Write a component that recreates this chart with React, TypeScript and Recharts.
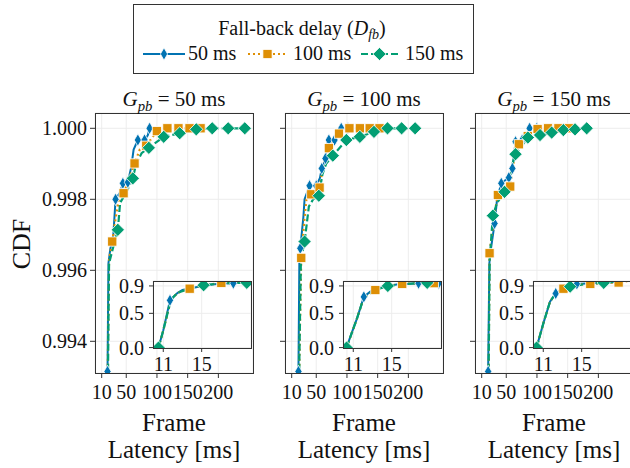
import React from "react";
import { LineChart, Line, XAxis, YAxis, CartesianGrid } from "recharts";

// [x (ms), CDF, marker shown]
type Pt = [number, number, number];

const xTicks = [10, 50, 100, 150, 200];
const yTicks = [0.994, 0.996, 0.998, 1.0];
const insetXTicks = [11, 15];
const insetYTicks = [0, 0.5, 0.9];

const gpbLabels = ["50", "100", "150"];
const delayLabels = ["50 ms", "100 ms", "150 ms"];

// main panels, G_pb = 50 ms
const g50d50: Pt[] = [[18, 0.985, 0], [19.5, 0.99315, 1], [21, 0.9962, 0], [24, 0.9966, 0], [29, 0.997, 0], [32.6, 0.998, 1], [40, 0.9982, 0], [44.5, 0.99845, 1], [52.6, 0.99848, 1], [58, 0.9989, 0], [62, 0.9994, 0], [68.9, 0.99967, 1], [79.8, 0.99967, 1], [85, 0.9998, 0], [88, 1.0, 1]];
const g50d100: Pt[] = [[18, 0.985, 0], [20, 0.9935, 0], [22, 0.9963, 0], [27.2, 0.99681, 1], [33, 0.9975, 0], [38, 0.998, 0], [45.6, 0.99817, 1], [55, 0.9986, 0], [63.5, 0.99901, 1], [72, 0.9994, 0], [82.6, 0.99951, 1], [99.8, 0.99992, 1], [117, 1.0, 1], [135, 1.0, 1], [153, 1.0, 1], [171, 1.0, 1]];
const g50d150: Pt[] = [[18, 0.985, 0], [20.5, 0.9935, 0], [22, 0.9962, 0], [28, 0.9966, 0], [36.3, 0.99714, 1], [40, 0.9979, 0], [50, 0.9982, 0], [60.7, 0.99859, 1], [66, 0.999, 0], [75, 0.9993, 0], [86.8, 0.99945, 1], [111, 0.99976, 1], [137, 0.99986, 1], [164, 0.99997, 1], [190, 1.0, 1], [216, 1.0, 1], [243, 1.0, 1]];

// G_pb = 100 ms
const g100d50: Pt[] = [[20, 0.985, 0], [21, 0.99315, 1], [22.5, 0.9963, 0], [24, 0.99662, 1], [29, 0.9975, 0], [31, 0.998, 0], [39.1, 0.99838, 1], [50, 0.99838, 1], [56, 0.9986, 0], [59, 0.99887, 1], [65, 0.99915, 1], [68, 0.9996, 0], [70.5, 0.99967, 1], [79.8, 0.99967, 1], [85, 0.9998, 0], [90.7, 1.0, 1], [101.5, 1.0, 1]];
const g100d100: Pt[] = [[20, 0.985, 0], [22.5, 0.9935, 0], [25.6, 0.99635, 1], [30, 0.9973, 0], [34, 0.998, 0], [41.9, 0.99814, 1], [55.4, 0.99833, 1], [62, 0.999, 0], [70.5, 0.99944, 1], [87, 0.99985, 1], [104, 1.0, 1], [121, 1.0, 1], [137, 1.0, 1], [153, 1.0, 1]];
const g100d150: Pt[] = [[20, 0.985, 0], [22.5, 0.9935, 0], [25, 0.9963, 0], [31, 0.99681, 1], [38, 0.9978, 0], [45, 0.998, 0], [54.2, 0.9981, 1], [60, 0.9987, 0], [66, 0.999, 0], [77, 0.99923, 1], [99, 0.99967, 1], [121, 0.99976, 1], [144, 0.9999, 1], [166, 1.0, 1], [189, 1.0, 1], [211, 1.0, 1]];

// G_pb = 150 ms
const g150d50: Pt[] = [[19, 0.985, 0], [20.5, 0.99315, 1], [22.5, 0.9962, 0], [25, 0.9966, 0], [31, 0.99732, 1], [35, 0.998, 0], [41.9, 0.99845, 1], [54.2, 0.99861, 1], [60, 0.99887, 1], [63, 0.9993, 0], [65.1, 0.99962, 1], [76, 0.99967, 1], [83, 0.9998, 0], [88, 1.0, 1], [99.8, 1.0, 1]];
const g150d100: Pt[] = [[19, 0.985, 0], [21.5, 0.9935, 0], [22.8, 0.99648, 1], [30, 0.9975, 0], [36.3, 0.99812, 1], [45, 0.9983, 0], [56.5, 0.99836, 1], [63, 0.9992, 0], [70.5, 0.99955, 1], [85, 0.99978, 1], [101, 0.99998, 1], [118, 1.0, 1], [135, 1.0, 1], [152, 1.0, 1]];
const g150d150: Pt[] = [[19, 0.985, 0], [21.5, 0.9935, 0], [23, 0.9963, 0], [28.2, 0.99754, 1], [35, 0.9979, 0], [47.2, 0.99821, 1], [55, 0.9985, 0], [60, 0.999, 0], [65.1, 0.99927, 1], [85.2, 0.99974, 1], [105, 0.99981, 1], [124, 0.99988, 1], [143, 0.99995, 1], [162, 0.99997, 1], [181, 1.0, 1]];

// insets (body of the distribution)
const in50d50: Pt[] = [[10.5, 0, 0], [11, 0.25, 0], [11.7, 0.69, 1], [12.5, 0.8, 0], [13, 0.84, 0], [14, 0.87, 0], [15.5, 0.91, 0], [17, 0.935, 0], [18.3, 0.94, 1], [19.5, 0.95, 0], [20.6, 0.99, 0]];
const in50d100: Pt[] = [[10.5, 0, 0], [11, 0.25, 0], [11.8, 0.7, 0], [12.5, 0.8, 0], [13.75, 0.86, 1], [15.2, 0.91, 0], [17.05, 0.945, 1], [18.5, 0.95, 0], [20.6, 0.99, 0]];
const in50d150: Pt[] = [[10.5, 0, 1], [11, 0.25, 0], [11.8, 0.7, 0], [12.5, 0.8, 0], [13.75, 0.86, 0], [15.2, 0.91, 1], [17, 0.94, 0], [19.7, 0.945, 1], [20.6, 0.99, 0]];

const in100d50: Pt[] = [[10.3, 0, 0], [10.8, 0.2, 0], [11.4, 0.43, 0], [12.1, 0.74, 1], [12.8, 0.82, 0], [14, 0.88, 0], [15.5, 0.92, 0], [17.8, 0.94, 1], [19.9, 0.94, 1], [20.6, 0.99, 0]];
const in100d100: Pt[] = [[10.3, 0, 0], [11.4, 0.43, 0], [12.1, 0.73, 0], [13.3, 0.84, 1], [14.5, 0.9, 0], [16.1, 0.93, 1], [18, 0.94, 0], [19.4, 0.94, 1], [20.6, 0.99, 0]];
const in100d150: Pt[] = [[10.3, 0, 1], [11.4, 0.43, 0], [12.1, 0.73, 0], [13.3, 0.84, 0], [14.6, 0.9, 1], [16.5, 0.93, 0], [18.7, 0.945, 1], [20.6, 0.99, 0]];

const in150d50: Pt[] = [[10.3, 0, 0], [11, 0.35, 0], [11.7, 0.67, 0], [12.3, 0.79, 1], [13.1, 0.85, 0], [14.5, 0.93, 1], [16, 0.94, 0], [18, 0.95, 0], [20.6, 0.99, 0]];
const in150d100: Pt[] = [[10.3, 0, 0], [11, 0.35, 0], [11.7, 0.67, 0], [12.3, 0.79, 0], [13.1, 0.86, 1], [14.5, 0.92, 0], [15.9, 0.93, 1], [17.3, 0.945, 0], [18.85, 0.95, 1], [20.6, 0.99, 0]];
const in150d150: Pt[] = [[10.3, 0, 1], [11, 0.35, 0], [11.7, 0.67, 0], [12.3, 0.79, 0], [13.8, 0.89, 1], [15.5, 0.93, 0], [17.3, 0.945, 1], [20.6, 0.99, 0]];

const FONT = '"Liberation Serif", "Times New Roman", Times, "DejaVu Serif", serif';
const INK = "#111";
const FRAME = "#333";
const GRID = "#ebebeb";

type Shape = "thin" | "square" | "diamond";
const SERIES: { color: string; dash?: string; width: number; shape: Shape }[] = [
  { color: "#0173B2", width: 2, shape: "thin" },
  { color: "#DE8F05", dash: "2 3", width: 2.2, shape: "square" },
  { color: "#029E73", dash: "7 3", width: 2.2, shape: "diamond" },
];

const panels = [
  { main: [g50d50, g50d100, g50d150], inset: [in50d50, in50d100, in50d150] },
  { main: [g100d50, g100d100, g100d150], inset: [in100d50, in100d100, in100d150] },
  { main: [g150d50, g150d100, g150d150], inset: [in150d50, in150d100, in150d150] },
];

function Marker({ shape, color, x, y }: { shape: Shape; color: string; x: number; y: number }) {
  if (shape === "square") {
    return <rect x={x - 4.6} y={y - 4.6} width={9.2} height={9.2} fill={color} stroke="#fff" strokeWidth={0.8} />;
  }
  const w = shape === "thin" ? 3.6 : 6.6;
  const h = shape === "thin" ? 6.2 : 6.6;
  return (
    <polygon
      points={`${x},${y - h} ${x + w},${y} ${x},${y + h} ${x - w},${y}`}
      fill={color}
      stroke="#fff"
      strokeWidth={0.8}
    />
  );
}

const makeDot = (shape: Shape, color: string) => (props: any) => {
  const { cx, cy, payload, index } = props;
  if (!payload || !payload.m || cx == null || cy == null) return <g key={`n-${index}`} />;
  return (
    <g key={`d-${index}`}>
      <Marker shape={shape} color={color} x={cx} y={cy} />
    </g>
  );
};

const toPts = (arr: Pt[]) => arr.map(([x, y, m]) => ({ x, y, m }));

const tickStyle = { fill: INK, fontSize: 20, fontFamily: FONT };

function Panel({ idx }: { idx: number }) {
  const L = 95 + 190 * idx;
  const p = panels[idx];
  return (
    <>
      <div style={{ position: "absolute", left: L - 60, top: 103 }}>
        <LineChart width={223} height={315} margin={{ top: 10, right: 5, bottom: 0, left: 0 }}>
          <CartesianGrid stroke={GRID} strokeWidth={0.9} />
          <XAxis
            type="number"
            dataKey="x"
            domain={[-0.9, 256.4]}
            ticks={xTicks}
            interval={0}
            allowDataOverflow
            height={45}
            axisLine={false}
            tickSize={5}
            tickMargin={7}
            tickLine={{ stroke: FRAME }}
            tick={tickStyle}
          />
          <YAxis
            type="number"
            domain={[0.993107, 1.000431]}
            ticks={yTicks}
            interval={0}
            allowDataOverflow
            width={60}
            axisLine={false}
            tickSize={5}
            tickMargin={3}
            tickLine={{ stroke: FRAME }}
            tick={tickStyle}
            tickFormatter={(v: number) => (idx === 0 ? v.toFixed(3) : "")}
          />
          {p.main.map((d, i) => (
            <Line
              key={i}
              data={toPts(d)}
              dataKey="y"
              type="linear"
              stroke={SERIES[i].color}
              strokeWidth={SERIES[i].width}
              strokeDasharray={SERIES[i].dash}
              dot={makeDot(SERIES[i].shape, SERIES[i].color)}
              activeDot={false}
              isAnimationActive={false}
            />
          ))}
        </LineChart>
      </div>
      <div
        style={{
          position: "absolute",
          left: L,
          top: 113,
          width: 159,
          height: 261,
          border: `1px solid ${FRAME}`,
          boxSizing: "border-box",
        }}
      />
      <div style={{ position: "absolute", left: L + 8, top: 271 }}>
        <LineChart width={150} height={109} margin={{ top: 10, right: 2, bottom: 0, left: 0 }}>
          <CartesianGrid stroke={GRID} strokeWidth={0.9} fill="#fff" fillOpacity={1} />
          <XAxis
            type="number"
            dataKey="x"
            domain={[9.93, 20.14]}
            ticks={insetXTicks}
            interval={0}
            allowDataOverflow
            height={32}
            axisLine={false}
            tickSize={4}
            tickMargin={5}
            tickLine={{ stroke: FRAME }}
            tick={tickStyle}
          />
          <YAxis
            type="number"
            domain={[-0.006, 0.972]}
            ticks={insetYTicks}
            interval={0}
            allowDataOverflow
            width={50}
            axisLine={false}
            tickSize={4}
            tickMargin={5}
            tickLine={{ stroke: FRAME }}
            tick={tickStyle}
            tickFormatter={(v: number) => v.toFixed(1)}
          />
          {p.inset.map((d, i) => (
            <Line
              key={i}
              data={toPts(d)}
              dataKey="y"
              type="linear"
              stroke={SERIES[i].color}
              strokeWidth={SERIES[i].width}
              strokeDasharray={SERIES[i].dash}
              dot={makeDot(SERIES[i].shape, SERIES[i].color)}
              activeDot={false}
              isAnimationActive={false}
            />
          ))}
        </LineChart>
      </div>
      <div
        style={{
          position: "absolute",
          left: L + 58,
          top: 281,
          width: 99,
          height: 68,
          border: `1px solid ${FRAME}`,
          boxSizing: "border-box",
        }}
      />
      <div
        style={{
          position: "absolute",
          left: L + 79 - 100,
          top: 89,
          width: 200,
          textAlign: "center",
          fontSize: 21,
          lineHeight: "21px",
          color: INK,
          whiteSpace: "nowrap",
        }}
      >
        <span style={{ fontStyle: "italic" }}>G</span>
        <span style={{ fontStyle: "italic", fontSize: "0.7em", position: "relative", top: "0.32em" }}>pb</span>
        {" = "}
        {gpbLabels[idx]} ms
      </div>
      <div
        style={{
          position: "absolute",
          left: L + 79 - 100,
          top: 409,
          width: 200,
          textAlign: "center",
          fontSize: 25,
          lineHeight: "27px",
          color: INK,
        }}
      >
        Frame
        <br />
        Latency [ms]
      </div>
    </>
  );
}

function LegendBox() {
  const items = [
    { x1: 143, x2: 185, text: 188 },
    { x1: 248, x2: 287, text: 293 },
    { x1: 361, x2: 398, text: 405 },
  ];
  return (
    <svg
      width={630}
      height={90}
      style={{ position: "absolute", left: 0, top: 0, fontFamily: FONT }}
    >
      <rect x={133.5} y={4.5} width={340} height={69} fill="#fff" stroke={FRAME} strokeWidth={1} />
      <text x={302} y={34.5} textAnchor="middle" fontSize={20} fill={INK}>
        Fall-back delay (<tspan fontStyle="italic">D</tspan>
        <tspan fontStyle="italic" fontSize={14} dy={4}>fb</tspan>
        <tspan dy={-4}>)</tspan>
      </text>
      {items.map((it, i) => (
        <g key={i}>
          <line
            x1={it.x1}
            x2={it.x2}
            y1={54}
            y2={54}
            stroke={SERIES[i].color}
            strokeWidth={SERIES[i].width}
            strokeDasharray={SERIES[i].dash}
          />
          <Marker shape={SERIES[i].shape} color={SERIES[i].color} x={(it.x1 + it.x2) / 2} y={54} />
          <text x={it.text} y={59.5} fontSize={20} fill={INK}>
            {delayLabels[i]}
          </text>
        </g>
      ))}
    </svg>
  );
}

export default function App() {
  return (
    <div
      style={{
        position: "absolute",
        left: 0,
        top: 0,
        width: 630,
        height: 468,
        overflow: "hidden",
        background: "#fff",
        fontFamily: FONT,
      }}
    >
      {[0, 1, 2].map((i) => (
        <Panel key={i} idx={i} />
      ))}
      <LegendBox />
      <div
        style={{
          position: "absolute",
          left: 22 - 50,
          top: 244 - 15,
          width: 100,
          height: 30,
          lineHeight: "30px",
          textAlign: "center",
          fontSize: 26,
          color: INK,
          transform: "rotate(-90deg)",
        }}
      >
        CDF
      </div>
    </div>
  );
}
